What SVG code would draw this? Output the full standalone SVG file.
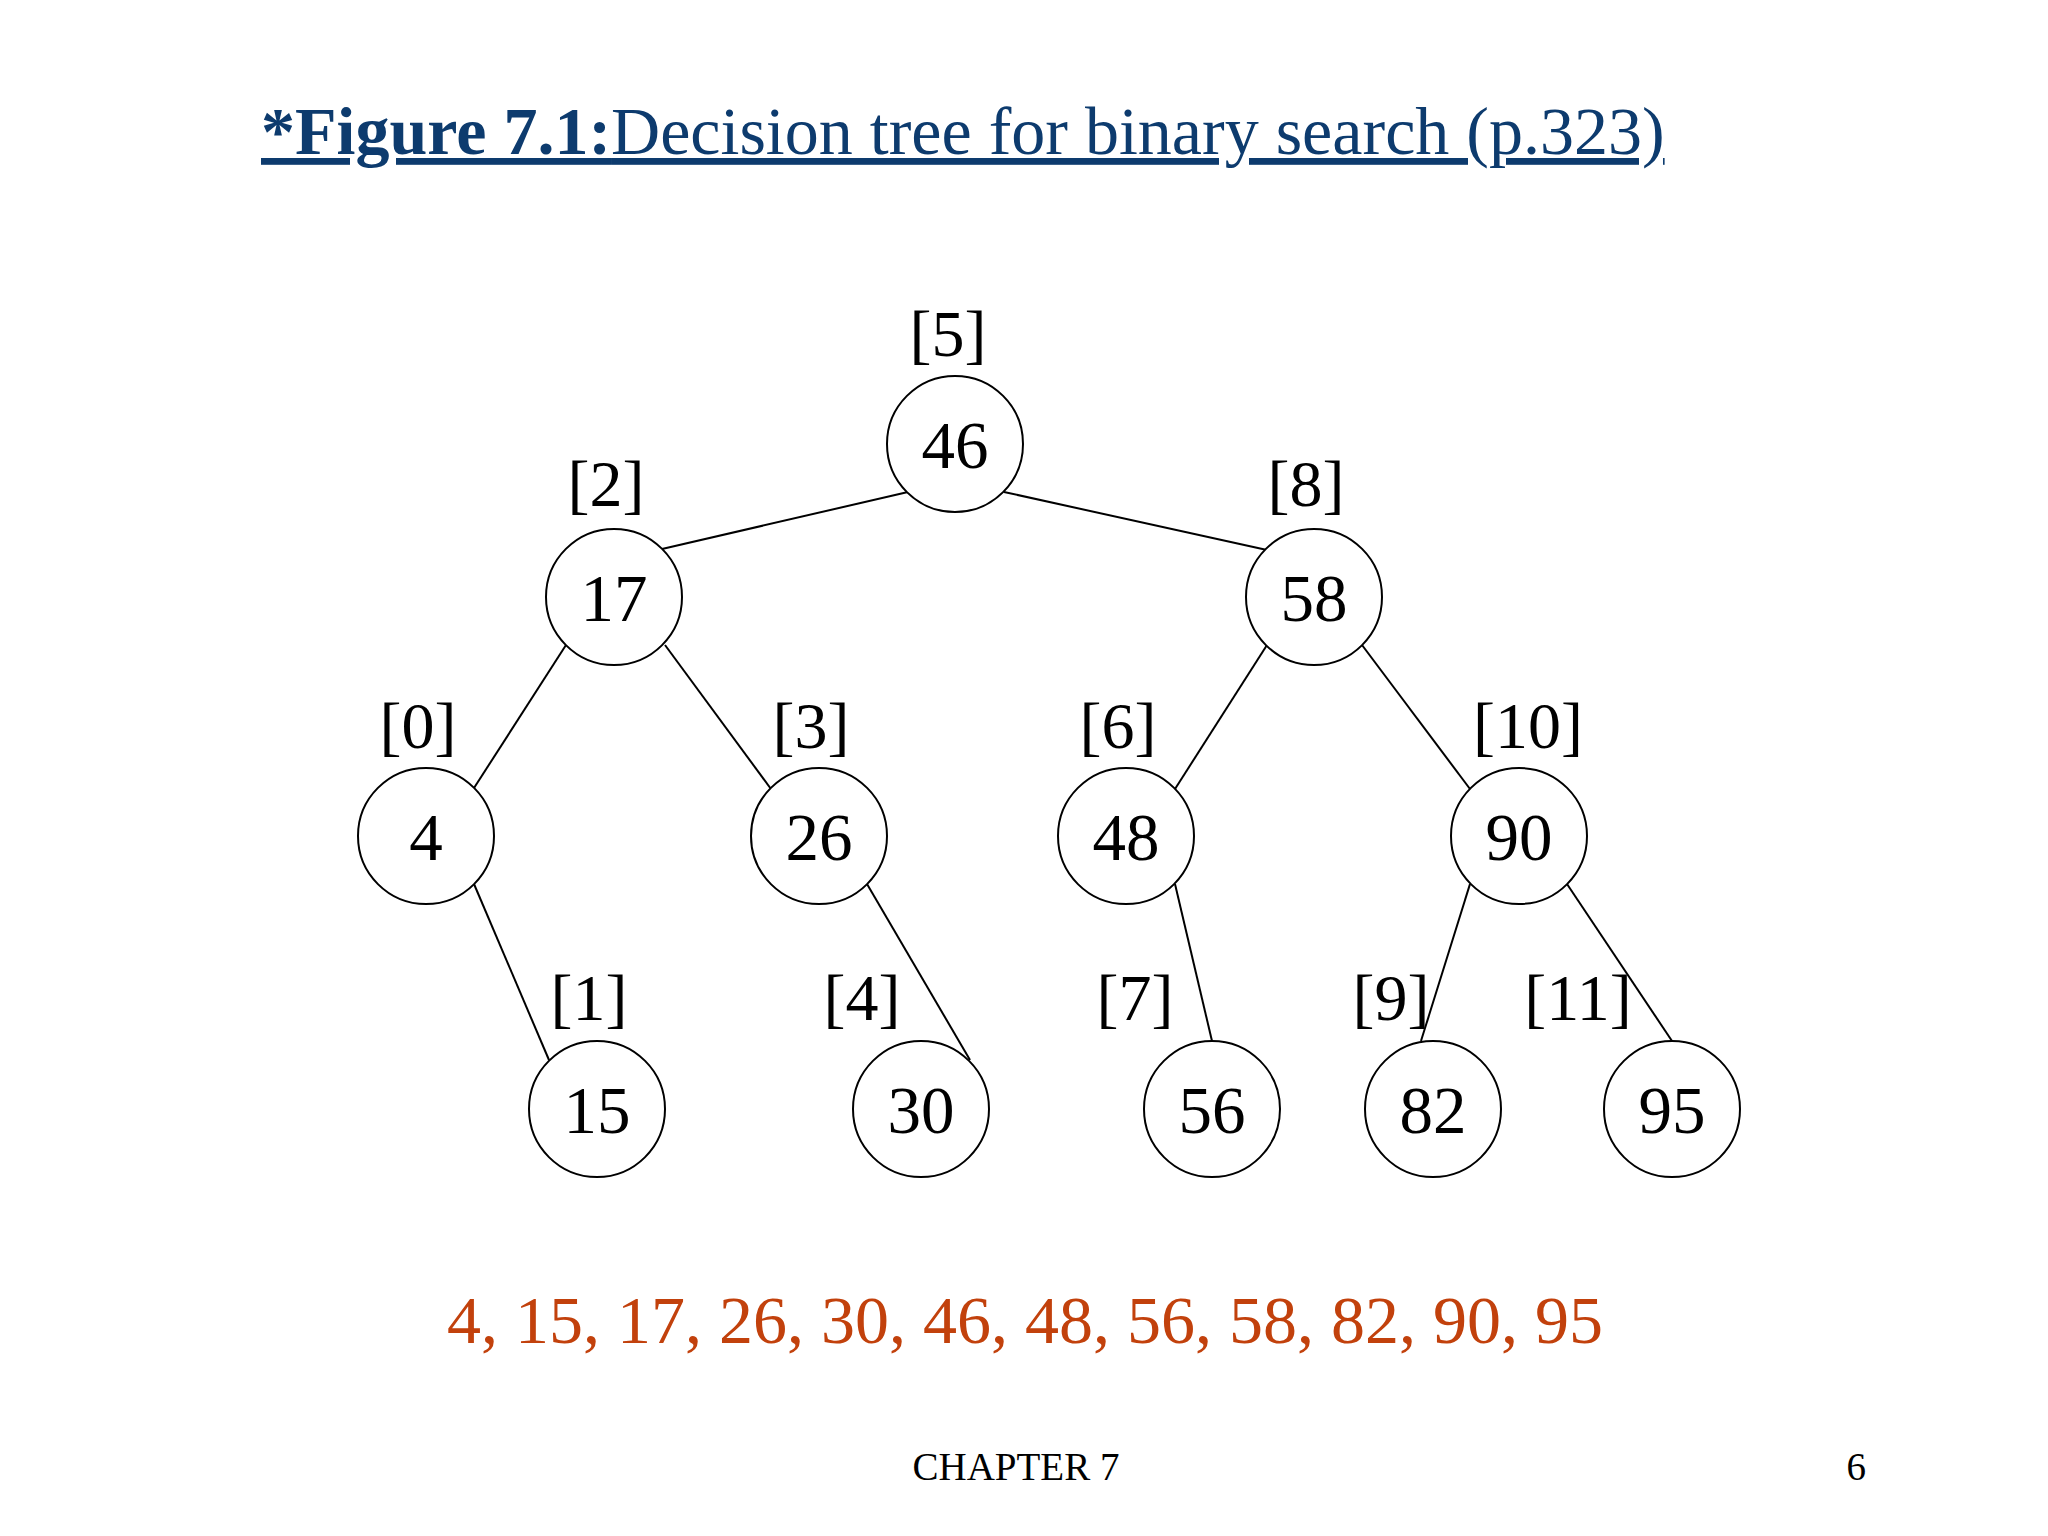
<svg xmlns="http://www.w3.org/2000/svg" width="2048" height="1536" viewBox="0 0 2048 1536">
<style>
text{font-family:"Liberation Serif","Times New Roman",serif}
.n circle{fill:#fff;stroke:#000;stroke-width:2}
.v{font-size:67px;text-anchor:middle}
.l{font-size:66px;text-anchor:middle}
#edges line{stroke:#000;stroke-width:2}
</style>
<rect width="2048" height="1536" fill="#fff"/>
<text x="261" y="154" font-size="68" fill="#0d3b6e" text-decoration="underline"><tspan font-weight="bold">*Figure 7.1:</tspan>Decision tree for binary search (p.323)</text>
<g id="edges">
<line x1="908" y1="492" x2="662" y2="549"/>
<line x1="1004" y1="492" x2="1267" y2="550"/>
<line x1="566" y1="645" x2="474" y2="788"/>
<line x1="665" y1="645" x2="771" y2="789"/>
<line x1="1267" y1="645" x2="1175" y2="789"/>
<line x1="1362" y1="645" x2="1470" y2="789"/>
<line x1="474" y1="884" x2="549" y2="1060"/>
<line x1="867" y1="884" x2="970" y2="1060"/>
<line x1="1175" y1="884" x2="1212" y2="1041"/>
<line x1="1470" y1="884" x2="1421" y2="1041"/>
<line x1="1567" y1="884" x2="1672" y2="1041"/>
</g>
<g id="n46" class="n"><circle cx="955" cy="444" r="68"/><text class="v" x="955" y="468">46</text><text class="l" x="948" y="356">[5]</text></g>
<g id="n17" class="n"><circle cx="614" cy="597" r="68"/><text class="v" x="614" y="621">17</text><text class="l" x="606" y="506">[2]</text></g>
<g id="n58" class="n"><circle cx="1314" cy="597" r="68"/><text class="v" x="1314" y="621">58</text><text class="l" x="1306" y="506">[8]</text></g>
<g id="n4" class="n"><circle cx="426" cy="836" r="68"/><text class="v" x="426" y="860">4</text><text class="l" x="418" y="748">[0]</text></g>
<g id="n26" class="n"><circle cx="819" cy="836" r="68"/><text class="v" x="819" y="860">26</text><text class="l" x="811" y="748">[3]</text></g>
<g id="n48" class="n"><circle cx="1126" cy="836" r="68"/><text class="v" x="1126" y="860">48</text><text class="l" x="1118" y="748">[6]</text></g>
<g id="n90" class="n"><circle cx="1519" cy="836" r="68"/><text class="v" x="1519" y="860">90</text><text class="l" x="1528" y="748">[10]</text></g>
<g id="n15" class="n"><circle cx="597" cy="1109" r="68"/><text class="v" x="597" y="1133">15</text><text class="l" x="589" y="1020">[1]</text></g>
<g id="n30" class="n"><circle cx="921" cy="1109" r="68"/><text class="v" x="921" y="1133">30</text><text class="l" x="862" y="1020">[4]</text></g>
<g id="n56" class="n"><circle cx="1212" cy="1109" r="68"/><text class="v" x="1212" y="1133">56</text><text class="l" x="1135" y="1020">[7]</text></g>
<g id="n82" class="n"><circle cx="1433" cy="1109" r="68"/><text class="v" x="1433" y="1133">82</text><text class="l" x="1391" y="1020">[9]</text></g>
<g id="n95" class="n"><circle cx="1672" cy="1109" r="68"/><text class="v" x="1672" y="1133">95</text><text class="l" x="1578" y="1020">[11]</text></g>
<text x="1025" y="1343" font-size="68" fill="#c2410c" text-anchor="middle">4, 15, 17, 26, 30, 46, 48, 56, 58, 82, 90, 95</text>
<text x="1016" y="1480" font-size="39" text-anchor="middle">CHAPTER 7</text>
<text x="1866" y="1480" font-size="39" text-anchor="end">6</text>
</svg>
